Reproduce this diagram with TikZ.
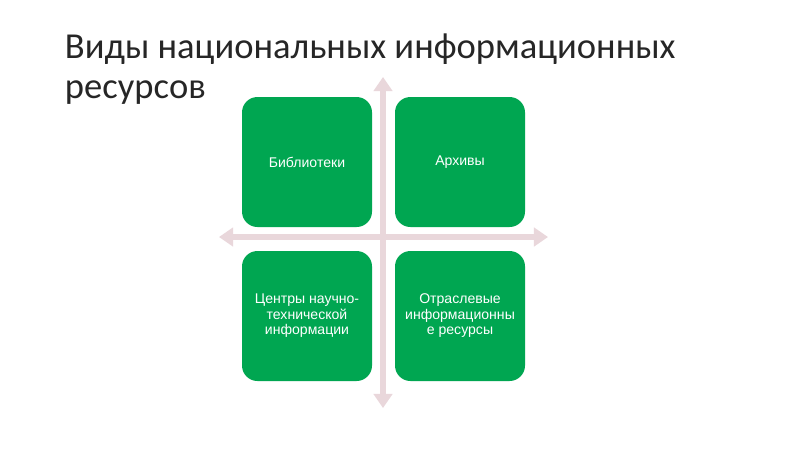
\documentclass[tikz,border=0pt]{standalone}
\usepackage{fontspec}
\setmainfont{Liberation Sans}
\newfontfamily\titlefont{Carlito}
\usetikzlibrary{arrows.meta}
\definecolor{boxgreen}{RGB}{0,166,81}
\definecolor{axispink}{RGB}{233,215,219}
\definecolor{titlegrey}{RGB}{38,38,38}

\tikzset{
    quadbox/.style={fill=boxgreen, rounded corners=11pt, minimum width=130*0.025cm,
        minimum height=130*0.025cm, align=center, text=white,
        font=\fontsize{10}{11}\selectfont},
    axisarrow/.style={axispink, line width=3.6pt,
        {Triangle[width=13pt,length=10pt]}-{Triangle[width=13pt,length=10pt]}}
}

\begin{document}
\begin{tikzpicture}[x=0.025cm,y=-0.025cm]

\useasboundingbox[fill=white] (0,0) rectangle (800,450);

% Title (base is the baseline of its last line)
\node[anchor=base west, text=titlegrey, align=left,
    font=\titlefont\fontsize{26}{28.4}\selectfont] (title) at (60,98)
    {Виды национальных информационных\\ресурсов};

% Ends of the two axes
\coordinate (top) at (383,77);
\coordinate (bottom) at (383,408);
\coordinate (left) at (219,237);
\coordinate (right) at (548,237);

% Draws the axes
\draw[axisarrow] (bottom) -- (top);
\draw[axisarrow] (left) -- (right);

% Draws the four boxes
\node[quadbox] (libraries) at (307,162) {Библиотеки};
\node[quadbox] (archives) at (460,162) {Архивы};
\node[quadbox] (centres) at (307,316) {Центры научно-\\технической\\информации};
\node[quadbox] (branch) at (460,316) {Отраслевые\\информационны\\е ресурсы};

\end{tikzpicture}
\end{document}
